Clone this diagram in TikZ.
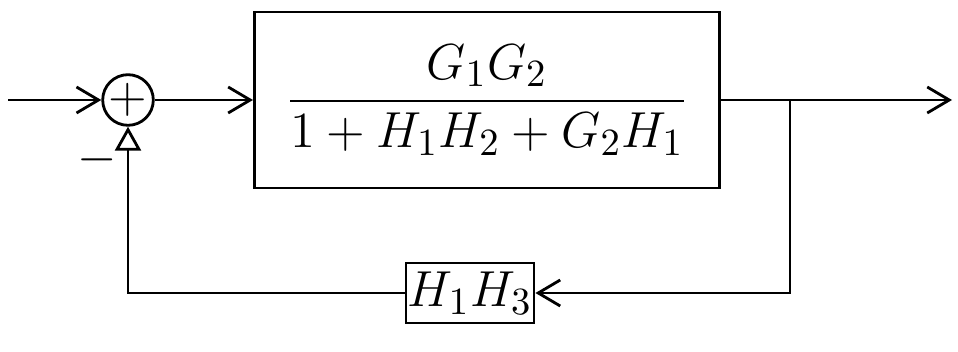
\documentclass[tikz,border=0pt]{standalone}
\usepackage{amsmath,amssymb}
\usepackage{tikz}
\usetikzlibrary{arrows.meta,calc}

\begin{document}
\begin{tikzpicture}[>={Straight Barb[length=2.2mm,width=2.6mm]}, x=0.01cm, y=-0.01cm,
    every node/.style={font=\fontsize{15}{18}\selectfont},
    blk/.style={draw,thick,rectangle,inner sep=0pt},
    sumnode/.style={draw,thick,circle,minimum size=0.46cm,inner sep=0pt}]
  \useasboundingbox (0,0) rectangle (958,352);
  % summing point and blocks
  \node[sumnode] (sum) at (128,100) {$+$};
  \node[blk,minimum width=4.65cm,minimum height=1.76cm] (plant) at (487,100)
        {$\displaystyle\frac{G_1G_2}{1+H_1H_2+G_2H_1}$};
  \node[blk,minimum width=1.28cm,minimum height=0.6cm] (fb) at (470,293) {$H_1H_3$};
  \node at (97,160) {$-$};
  \coordinate (in) at (8,100);
  \coordinate (out) at (952,100);
  \coordinate (br) at (790,100);
  % forward path
  \draw[->,thick] (in) -- (sum);
  \draw[->,thick] (sum) -- (plant);
  \draw[->,thick] (plant) -- (out);
  % feedback path
  \draw[->,thick] (br) -- (br |- fb) -- (fb);
  \draw[-{Triangle[open,length=2.4mm,width=2.6mm]},thick] (fb) -- (sum |- fb) -- (sum);
\end{tikzpicture}
\end{document}
